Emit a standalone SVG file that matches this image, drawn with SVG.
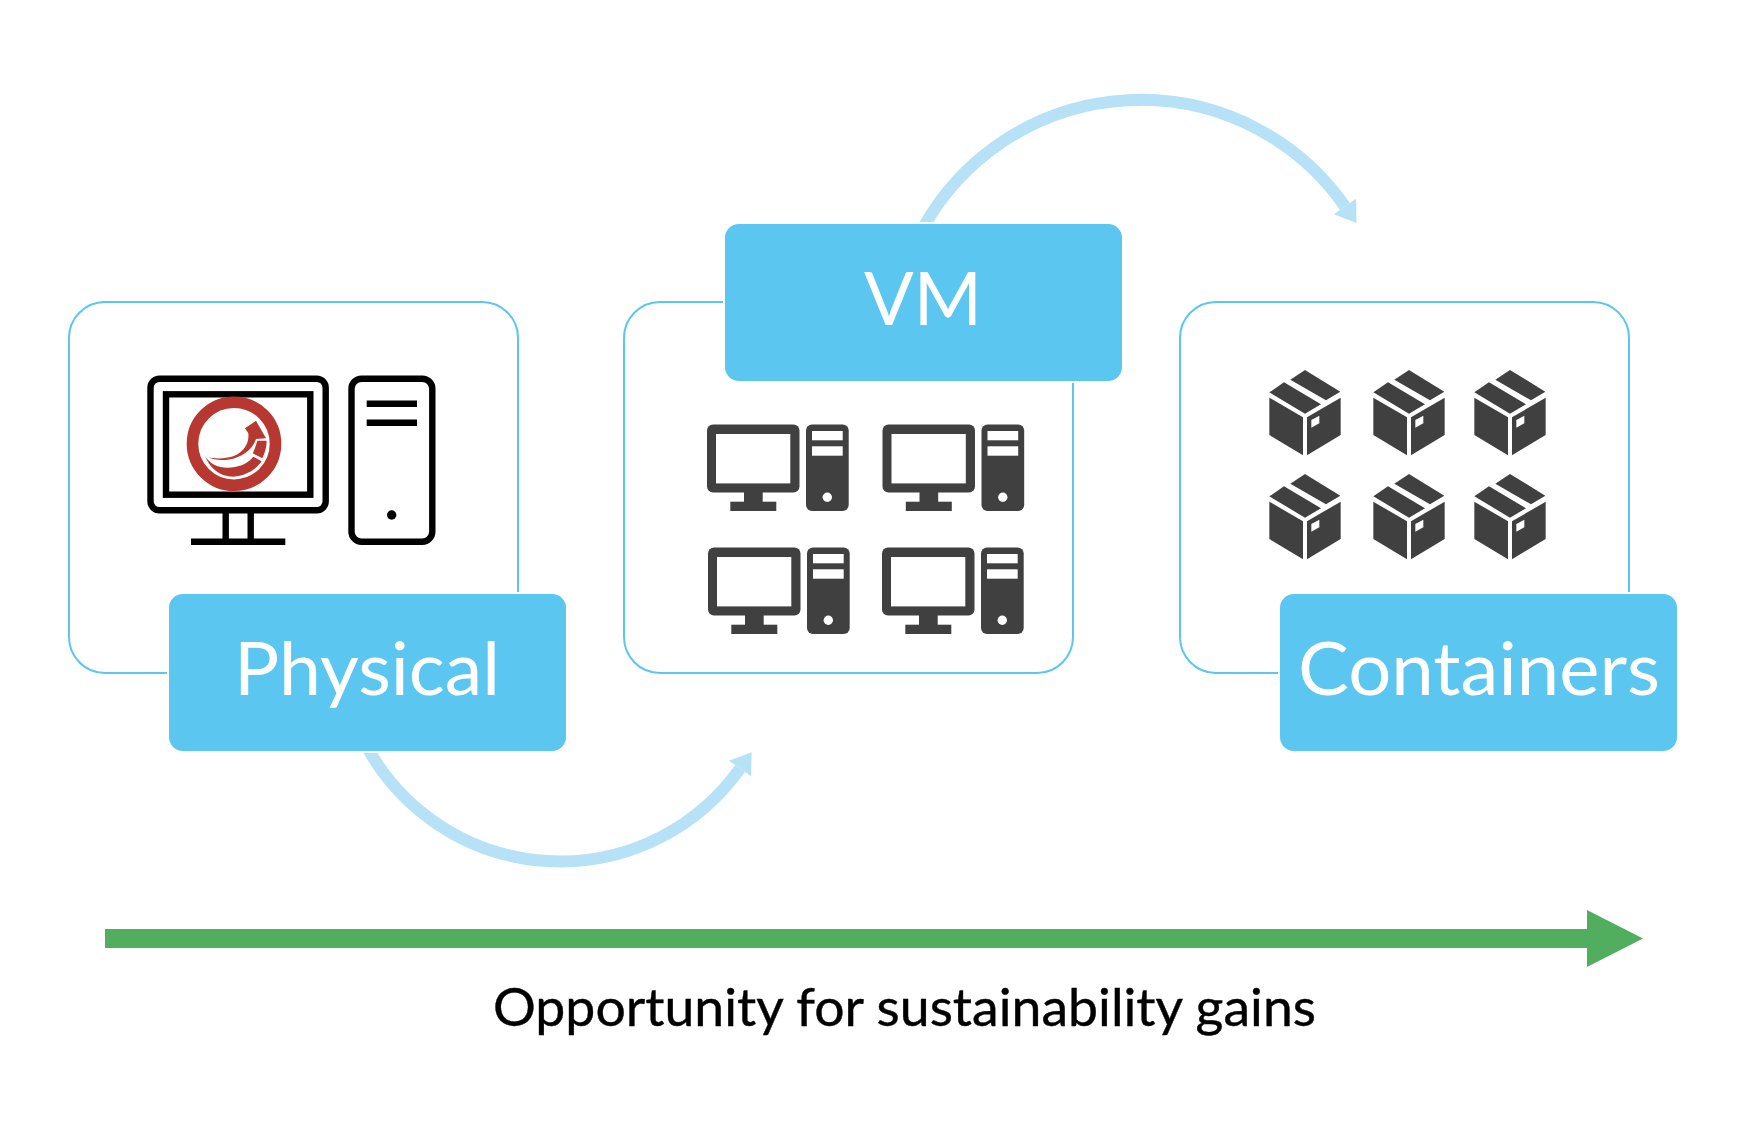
<svg xmlns="http://www.w3.org/2000/svg" xmlns:xlink="http://www.w3.org/1999/xlink" width="1754" height="1130" viewBox="0 0 1754 1130">
<style>
.box{fill:#fff;stroke:#5bc6f0;stroke-width:2}
.tag{fill:#5bc6f0;stroke:#fff;stroke-width:4;paint-order:stroke}
.tagtext{font-family:"Lato","Liberation Sans",sans-serif;font-size:74px;fill:#fff}
.dark{fill:#404040}
.white{fill:#fff}
.line{fill:none;stroke:#000;stroke-width:6.4}
.curve{fill:none;stroke:#b6e1f7;stroke-width:12;marker-end:url(#head)}
</style>
<defs>
<marker id="head" markerUnits="userSpaceOnUse" viewBox="-1 -15 23 30" refX="0" refY="0" markerWidth="23" markerHeight="30" orient="auto">
<path d="M0,-13.5L20,0L0,13.5z" fill="#b6e1f7"/>
</marker>
<g id="pc">
<rect class="dark" x="707" y="424.5" width="92.5" height="68" rx="6"/>
<rect class="white" x="716" y="434" width="74.3" height="49.4"/>
<rect class="dark" x="744" y="492" width="18.7" height="10"/>
<rect class="dark" x="730.3" y="501.7" width="46" height="9.3"/>
<rect class="dark" x="806" y="424.5" width="42.7" height="86.5" rx="6"/>
<rect class="white" x="812" y="431" width="30.7" height="9.3"/>
<rect class="white" x="812" y="446.3" width="30.7" height="9.4"/>
<circle class="white" cx="827.3" cy="497.3" r="4.7"/>
</g>
<g id="pkg" transform="translate(1260,365) scale(.3333)">
<path class="dark" d="M91,44L135,15L241,80L198,106zM28,82L72,52L183,118L135,146zM28,98L129,157V271L28,210zM141,157L242,98V210L141,271zM154,165V188L178,175V152z" fill-rule="evenodd"/>
</g>
</defs>
<rect width="1754" height="1130" fill="#fff"/>

<g id="connectors">
<path class="curve" d="M923,228A249,249 0 0 1 1345,206.5"/>
<path class="curve" d="M367,747A220.4,220.4 0 0 0 740,768.5"/>
</g>

<g id="physical">
<rect class="box" x="69" y="302" width="449" height="371" rx="36"/>
<g id="physical-monitor">
<rect class="line" x="150.5" y="378.7" width="175.2" height="131.6" rx="9"/>
<rect class="line" x="166" y="394.3" width="144.3" height="100.4"/>
<path class="line" d="M225.7,510V541M250.7,510V541M191,541.8H285.3"/>
<rect class="line" x="351.5" y="378.7" width="80.8" height="163" rx="10"/>
<path class="line" d="M366.7,403.8H417M366.7,422.8H417"/>
<circle cx="391.7" cy="515" r="4.7"/>
</g>
<g id="sencha-logo">
<circle cx="234" cy="443.7" r="41.5" fill="#fff" stroke="#b73831" stroke-width="11.6"/>
<g transform="translate(170,370) scale(.3333)" fill="#b73831">
<path d="M225,175L258,152L288,205L258,207C250,232 228,255 190,266C160,273 130,270 115,262C140,268 175,266 200,254C225,241 238,216 235,190z"/>
<path d="M290,212L262,212C258,225 254,240 248,250L277,265C286,245 290,230 290,212z"/>
<path d="M105,258C125,290 160,298 195,291C220,286 238,275 250,260L275,274C255,302 225,318 190,320C150,320 120,295 105,258z"/>
</g>
</g>
<rect class="tag" x="169" y="594" width="397" height="157" rx="14"/>
<text class="tagtext" x="234" y="695" textLength="266" lengthAdjust="spacingAndGlyphs">Physical</text>
</g>

<g id="vm">
<rect class="box" x="624" y="302" width="449" height="371" rx="36"/>
<use href="#pc" xlink:href="#pc"/>
<use href="#pc" xlink:href="#pc" transform="translate(175.5,0)"/>
<use href="#pc" xlink:href="#pc" transform="translate(1,123)"/>
<use href="#pc" xlink:href="#pc" transform="translate(175,123)"/>
<rect class="tag" x="725" y="224" width="397" height="157" rx="14"/>
<text class="tagtext" x="864" y="325" textLength="118" lengthAdjust="spacingAndGlyphs">VM</text>
</g>

<g id="containers">
<rect class="box" x="1180" y="302" width="449" height="371" rx="36"/>
<use href="#pkg" xlink:href="#pkg"/>
<use href="#pkg" xlink:href="#pkg" transform="translate(104,0)"/>
<use href="#pkg" xlink:href="#pkg" transform="translate(205,0)"/>
<use href="#pkg" xlink:href="#pkg" transform="translate(0,104)"/>
<use href="#pkg" xlink:href="#pkg" transform="translate(104,104)"/>
<use href="#pkg" xlink:href="#pkg" transform="translate(205,104)"/>
<rect class="tag" x="1280" y="594" width="397" height="157" rx="14"/>
<text class="tagtext" x="1298" y="695" textLength="362" lengthAdjust="spacingAndGlyphs">Containers</text>
</g>

<g id="gains-arrow">
<path fill="#52ae5f" d="M105,929H1587V910L1643,938.5L1587,967V948H105z"/>
</g>
<text x="493" y="1026" font-family="Lato,'Liberation Sans',sans-serif" font-size="52" fill="#000" stroke="#000" stroke-width=".4" textLength="823" lengthAdjust="spacingAndGlyphs">Opportunity for sustainability gains</text>
</svg>
